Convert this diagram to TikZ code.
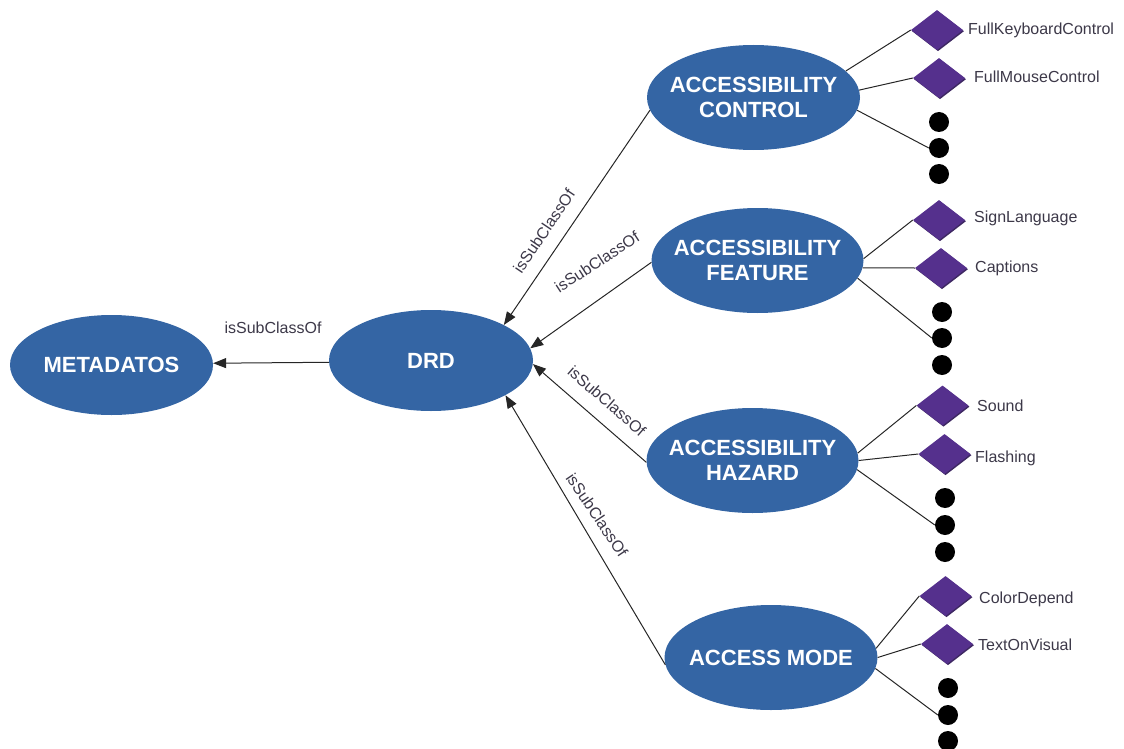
\documentclass[tikz,border=0pt]{standalone}
\usepackage{fontspec}
\setmainfont{Liberation Sans}
\usetikzlibrary{shapes.geometric,arrows.meta,shadows}
\definecolor{nodeblue}{RGB}{52,101,164}
\definecolor{leafpurple}{RGB}{85,48,141}
\definecolor{leafshade}{RGB}{62,40,98}
\definecolor{labelgray}{RGB}{60,56,72}

\begin{document}
\begin{tikzpicture}[x=1pt,y=-1pt,
  concept/.style={ellipse, fill=nodeblue, inner sep=0pt, minimum width=212pt, minimum height=105pt},
  concepttext/.style={text=white, font=\fontsize{22}{25}\selectfont\bfseries, align=center, inner sep=0pt},
  leaf/.style={diamond, fill=leafpurple, inner sep=0pt, minimum width=52pt, minimum height=40pt,
    general shadow={fill=leafshade, shadow xshift=1pt, shadow yshift=-1.2pt}},
  moredot/.style={circle, fill=black, inner sep=0pt, minimum size=20pt},
  leaftext/.style={anchor=base west, inner sep=0pt, text=labelgray, font=\fontsize{16}{18}\selectfont},
  reltext/.style={inner sep=0pt, text=labelgray, font=\fontsize{16}{18}\selectfont},
  link/.style={draw=black!85, line width=1pt},
  isa/.style={link, -{Triangle[length=13pt,width=10pt]}}
]
\useasboundingbox (0,0) rectangle (1124,749);

% ---- class hierarchy ----
\node[concept, minimum width=203pt, minimum height=100pt,
      label={[concepttext]center:METADATOS}] (meta) at (111.5,365) {};
\node[concept, minimum width=204pt, minimum height=101pt,
      label={[concepttext]center:DRD}] (drd) at (431,360.5) {};
\node[concept, minimum width=213pt,
      label={[concepttext]center:{ACCESSIBILITY\\CONTROL}}] (ctrl) at (753.5,97.5) {};
\node[concept,
      label={[concepttext]center:{ACCESSIBILITY\\FEATURE}}] (feat) at (757.5,260.5) {};
\node[concept,
      label={[concepttext]center:{ACCESSIBILITY\\HAZARD}}] (haz) at (752.5,460.5) {};
\node[concept, minimum width=213pt,
      label={[concepttext]center:{ACCESS MODE}}] (mode) at (771,657.5) {};

% ---- subclass arrows ----
\draw[isa] (drd.181) -- (meta.1);
\draw[isa] (ctrl.187) -- (drd.26);
\draw[isa] (feat.181) -- (drd.7);
\draw[isa] (haz.181) -- (drd.-2);
\draw[isa] (mode.184) -- (drd.-25);

\node[reltext] (r0) at (273,328) {isSubClassOf};
\node[reltext, rotate=56] (r1) at (544,231) {isSubClassOf};
\node[reltext, rotate=33] (r2) at (597,262) {isSubClassOf};
\node[reltext, rotate=-41] (r3) at (607,401) {isSubClassOf};
\node[reltext, rotate=-56] (r4) at (597,515) {isSubClassOf};

% ---- accessibility control values ----
\node[leaf] (fkc) at (937,30) {};
\node[leaf] (fmc) at (939,78) {};
\node[moredot] (c1) at (939,122) {};
\node[moredot] (c2) at (939,148) {};
\node[moredot] (c3) at (939,174) {};
\node[leaftext] (tfkc) at (968,35) {FullKeyboardControl};
\node[leaftext] (tfmc) at (974,83) {FullMouseControl};
\draw[link] (ctrl.16) -- (fkc.west);
\draw[link] (ctrl.4) -- (fmc.west);
\draw[link] (ctrl.-7) -- (c2.west);

% ---- accessibility feature values ----
\node[leaf] (sl) at (939,220) {};
\node[leaf] (cap) at (941,268) {};
\node[moredot] (f1) at (942,312) {};
\node[moredot] (f2) at (942,338) {};
\node[moredot] (f3) at (942,365) {};
\node[leaftext] (tsl) at (974,222) {SignLanguage};
\node[leaftext] (tcap) at (975,272) {Captions};
\draw[link] (feat.1) -- (sl.west);
\draw[link] (feat.-4) -- (cap.west);
\draw[link] (feat.-10) -- (f2.west);

% ---- accessibility hazard values ----
\node[leaf] (snd) at (942.5,405.5) {};
\node[leaf] (fla) at (944.5,454) {};
\node[moredot] (h1) at (945,498) {};
\node[moredot] (h2) at (945,525) {};
\node[moredot] (h3) at (945,552) {};
\node[leaftext] (tsnd) at (977,411) {Sound};
\node[leaftext] (tfla) at (975,462) {Flashing};
\draw[link] (haz.4) -- (snd.west);
\draw[link] (haz.0) -- (fla.west);
\draw[link] (haz.-5) -- (h2.west);

% ---- access mode values ----
\node[leaf] (cd) at (945.5,596) {};
\node[leaf] (tov) at (947,644) {};
\node[moredot] (m1) at (948,688) {};
\node[moredot] (m2) at (948,715) {};
\node[moredot] (m3) at (948,741) {};
\node[leaftext] (tcd) at (979,603) {ColorDepend};
\node[leaftext] (ttov) at (978,650) {TextOnVisual};
\draw[link] (mode.5) -- (cd.west);
\draw[link] (mode.0) -- (tov.west);
\draw[link] (mode.-6) -- (m2.west);
\end{tikzpicture}
\end{document}
